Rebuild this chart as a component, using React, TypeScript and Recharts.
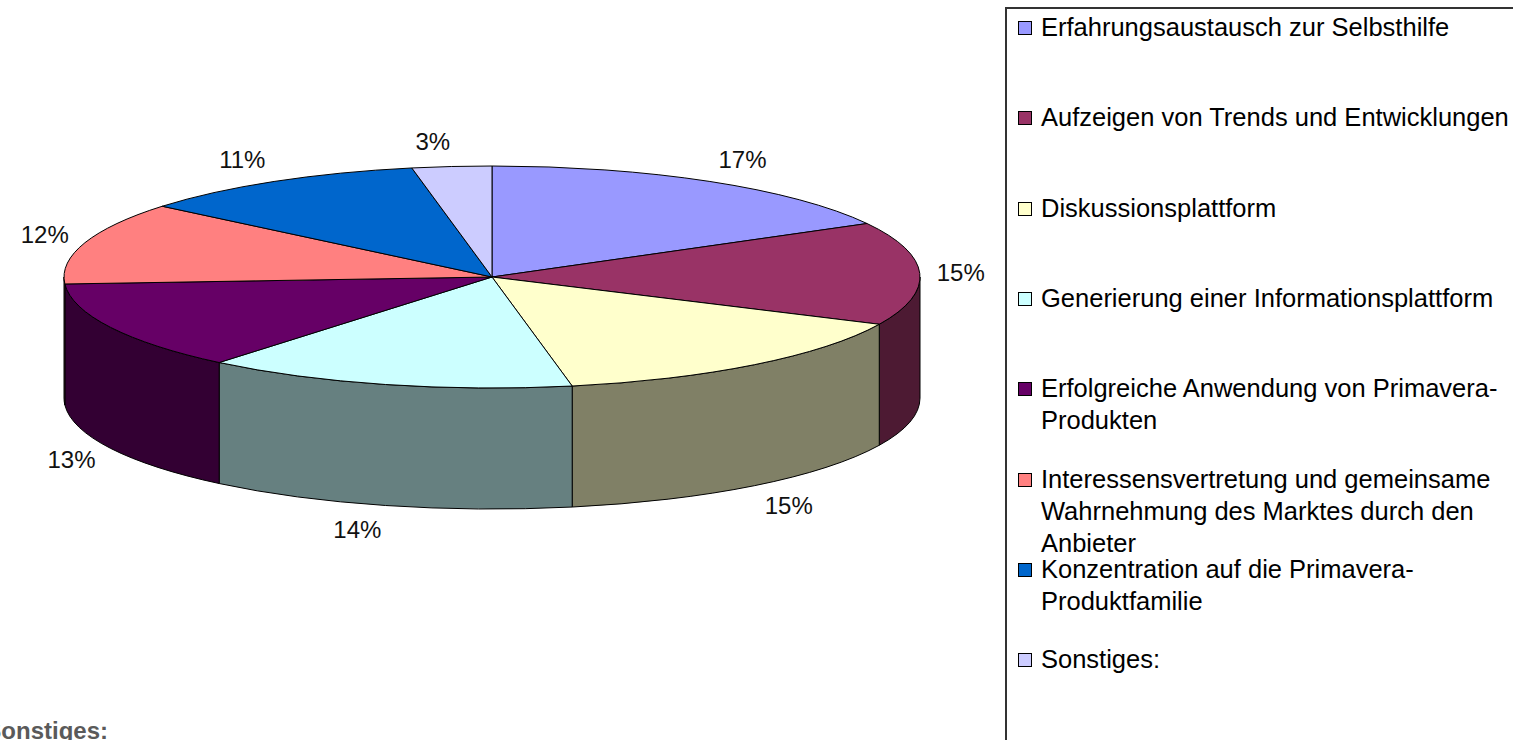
import { Legend, Pie, PieChart } from 'recharts';

const categories = [
  'Erfahrungsaustausch zur Selbsthilfe',
  'Aufzeigen von Trends und Entwicklungen',
  'Diskussionsplattform',
  'Generierung einer Informationsplattform',
  'Erfolgreiche Anwendung von Primavera-\nProdukten',
  'Interessensvertretung und gemeinsame\nWahrnehmung des Marktes durch den\nAnbieter',
  'Konzentration auf die Primavera-\nProduktfamilie',
  'Sonstiges:',
];

const shares = [17, 15, 15, 14, 13, 12, 11, 3];

const colors = ['#9999FF', '#993366', '#FFFFCC', '#CCFFFF', '#660066', '#FF8080', '#0066CC', '#CCCCFF'];

const data = categories.map((name, i) => ({ name, value: shares[i], fill: colors[i] }));

const FONT = '"Liberation Sans", Arial, sans-serif';
const TILT = 111 / 428; // vertical squash of the top face
const DEPTH = 121; // height of the pie's side wall
const RAD = Math.PI / 180;

function darken(hex: string, k = 0.5) {
  const n = parseInt(hex.slice(1), 16);
  const r = Math.round(((n >> 16) & 255) * k);
  const g = Math.round(((n >> 8) & 255) * k);
  const b = Math.round((n & 255) * k);
  return `rgb(${r},${g},${b})`;
}

function Slice3D(props: Record<string, unknown>) {
  const { cx, cy, outerRadius, startAngle, endAngle, fill } = props as {
    cx: number;
    cy: number;
    outerRadius: number;
    startAngle: number;
    endAngle: number;
    fill: string;
  };
  const rx = outerRadius;
  const ry = outerRadius * TILT;
  const pt = (a: number, dy = 0) => [cx + rx * Math.cos(a * RAD), cy - ry * Math.sin(a * RAD) + dy];
  const hi = Math.max(startAngle, endAngle);
  const lo = Math.min(startAngle, endAngle);
  const [x1, y1] = pt(hi);
  const [x2, y2] = pt(lo);
  const large = hi - lo > 180 ? 1 : 0;
  const top = `M${cx},${cy} L${x1},${y1} A${rx},${ry} 0 ${large} 1 ${x2},${y2} Z`;

  // front half of the rim (math angles -180..0, shifted by full turns)
  const walls: string[] = [];
  for (const k of [-360, 0, 360]) {
    const wHi = Math.min(hi, k);
    const wLo = Math.max(lo, k - 180);
    if (wHi - wLo > 0.01) {
      const [a1, b1] = pt(wHi);
      const [a2, b2] = pt(wLo);
      walls.push(
        `M${a1},${b1} A${rx},${ry} 0 0 1 ${a2},${b2} L${a2},${b2 + DEPTH} A${rx},${ry} 0 0 0 ${a1},${b1 + DEPTH} Z`,
      );
    }
  }

  return (
    <g>
      {walls.map((d, i) => (
        <path key={i} d={d} fill={darken(fill)} stroke="#000" strokeWidth={1} />
      ))}
      <path d={top} fill={fill} stroke="#000" strokeWidth={1} />
    </g>
  );
}

function renderLabel(props: Record<string, unknown>) {
  const { cx, cy, midAngle, percent } = props as { cx: number; cy: number; midAngle: number; percent: number };
  const c = Math.cos(midAngle * RAD);
  const s = Math.sin(midAngle * RAD);
  const x = cx + 445 * c;
  const y = cy - 136 * s + (s < 0 ? DEPTH : 0);
  return (
    <text
      x={x}
      y={y + 8.5}
      textAnchor={c >= 0 ? 'start' : 'end'}
      fill="#111"
      fontSize={24}
      fontFamily={FONT}
    >
      {`${Math.round(percent * 100)}%`}
    </text>
  );
}

function LegendBox() {
  return (
    <div
      style={{
        position: 'relative',
        width: 560,
        height: 780,
        border: '2px solid #333',
        boxSizing: 'border-box',
        background: '#fff',
        fontFamily: FONT,
        fontSize: 25.5,
        lineHeight: '32px',
        color: '#000',
      }}
    >
      {categories.map((name, i) => (
        <div key={name}>
          <div
            style={{
              position: 'absolute',
              left: 11,
              top: 12 + 90.3 * i,
              width: 12,
              height: 12,
              background: colors[i],
              border: '1px solid #000',
            }}
          />
          <div style={{ position: 'absolute', left: 34, top: 2 + 90.3 * i, whiteSpace: 'pre' }}>{name}</div>
        </div>
      ))}
    </div>
  );
}

export default function App() {
  return (
    <div
      style={{
        position: 'absolute',
        left: 0,
        top: 0,
        width: 1513,
        height: 740,
        overflow: 'hidden',
        background: '#fff',
      }}
    >
      <PieChart width={1513} height={740} margin={{ top: 0, right: 0, bottom: 0, left: 0 }}>
        <Pie
          data={data}
          dataKey="value"
          nameKey="name"
          cx={492}
          cy={277}
          outerRadius={428}
          startAngle={90}
          endAngle={-270}
          shape={Slice3D}
          activeShape={Slice3D}
          inactiveShape={Slice3D}
          label={renderLabel}
          labelLine={false}
          isAnimationActive={false}
        />
        <Legend
          layout="vertical"
          align="right"
          verticalAlign="top"
          content={() => <LegendBox />}
          wrapperStyle={{ position: 'absolute', left: 1005, top: 7, width: 560, height: 780 }}
        />
      </PieChart>
      <div
        style={{
          position: 'absolute',
          right: 1513 - 108,
          top: 719,
          fontFamily: FONT,
          fontWeight: 'bold',
          fontSize: 24,
          lineHeight: '24px',
          color: '#5a5a5a',
          whiteSpace: 'nowrap',
        }}
      >
        Sonstiges:
      </div>
    </div>
  );
}
